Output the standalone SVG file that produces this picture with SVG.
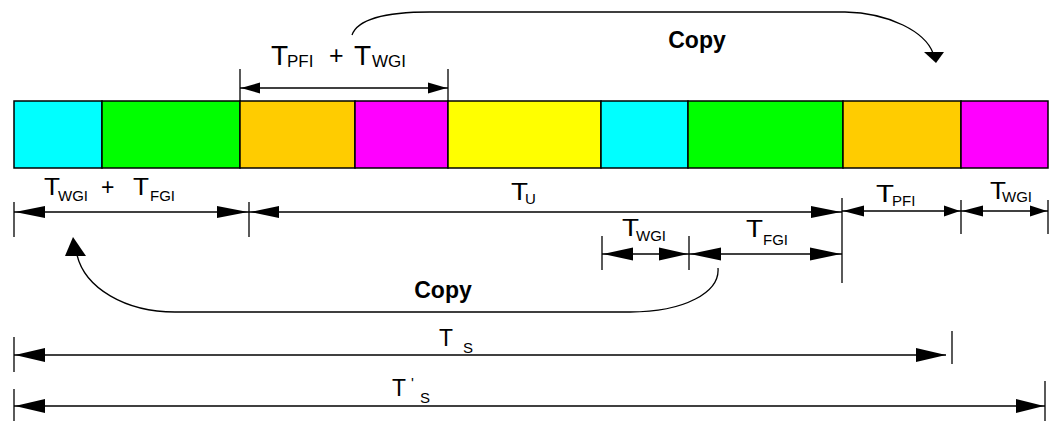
<svg xmlns="http://www.w3.org/2000/svg" width="1050" height="421" viewBox="0 0 1050 421">
<style>
  .blk{stroke:#000;stroke-width:1.5}
  .ln{stroke:#000;stroke-width:1.3;fill:none}
  .tk{stroke:#000;stroke-width:1.3}
  .ah{fill:#000;stroke:none}
  text{font-family:"Liberation Sans",Arial,sans-serif;fill:#000}
  .t{font-size:23px}
  .s{font-size:15px}
  .tt{font-size:28px}
  .ts{font-size:17px}
  .cp{font-size:23px;font-weight:bold}
</style>
<rect width="1050" height="421" fill="#fff"/>
<g id="block-wgi1"><rect class="blk" x="14" y="101" width="88" height="67" fill="#00FFFF"/></g>
<g id="block-fgi1"><rect class="blk" x="102" y="101" width="138" height="67" fill="#00FF00"/></g>
<g id="block-pfi1"><rect class="blk" x="240" y="101" width="115" height="67" fill="#FFCC00"/></g>
<g id="block-wgi2"><rect class="blk" x="355" y="101" width="93" height="67" fill="#FF00FF"/></g>
<g id="block-u"><rect class="blk" x="448" y="101" width="153" height="67" fill="#FFFF00"/></g>
<g id="block-wgi3"><rect class="blk" x="601" y="101" width="87" height="67" fill="#00FFFF"/></g>
<g id="block-fgi2"><rect class="blk" x="688" y="101" width="155" height="67" fill="#00FF00"/></g>
<g id="block-pfi2"><rect class="blk" x="843" y="101" width="118" height="67" fill="#FFCC00"/></g>
<g id="block-wgi4"><rect class="blk" x="961" y="101" width="87" height="67" fill="#FF00FF"/></g>

<g id="connectors">
  <!-- top dimension T_PFI + T_WGI -->
  <line class="tk" x1="240" y1="69" x2="240" y2="101"/>
  <line class="tk" x1="448" y1="69" x2="448" y2="101"/>
  <line class="ln" x1="240" y1="88" x2="448" y2="88"/>
  <polygon class="ah" points="241,88 260,82.5 260,93.5"/>
  <polygon class="ah" points="447,88 428,82.5 428,93.5"/>

  <!-- row 1 -->
  <line class="tk" x1="14" y1="202" x2="14" y2="237"/>
  <line class="tk" x1="249" y1="202" x2="249" y2="237"/>
  <line class="tk" x1="842" y1="198" x2="842" y2="283"/>
  <line class="tk" x1="961" y1="200" x2="961" y2="234"/>
  <line class="tk" x1="1048" y1="200" x2="1048" y2="234"/>
  <line class="ln" x1="14" y1="212" x2="842" y2="212"/>
  <polygon class="ah" points="15,212 45,206 45,218"/>
  <polygon class="ah" points="248,212 217,206 217,218"/>
  <polygon class="ah" points="250,212 279,206 279,218"/>
  <polygon class="ah" points="841,212 811,206 811,218"/>
  <line class="ln" x1="842" y1="211" x2="1048" y2="211"/>
  <polygon class="ah" points="843,211 864,205.5 864,216.5"/>
  <polygon class="ah" points="960,211 944,205.5 944,216.5"/>
  <polygon class="ah" points="962,211 983,205.5 983,216.5"/>
  <polygon class="ah" points="1047,211 1030,205.5 1030,216.5"/>

  <!-- row 2 -->
  <line class="tk" x1="602" y1="236" x2="602" y2="270"/>
  <line class="tk" x1="689" y1="236" x2="689" y2="270"/>
  <line class="ln" x1="602" y1="254" x2="842" y2="254"/>
  <polygon class="ah" points="603,254 633,247.5 633,260.5"/>
  <polygon class="ah" points="688,254 659,247.5 659,260.5"/>
  <polygon class="ah" points="690,254 721,247.5 721,260.5"/>
  <polygon class="ah" points="841,254 810,247.5 810,260.5"/>

  <!-- T_S -->
  <line class="tk" x1="14" y1="337" x2="14" y2="372"/>
  <line class="tk" x1="952" y1="331" x2="952" y2="364"/>
  <line class="ln" x1="14" y1="355" x2="946" y2="355"/>
  <polygon class="ah" points="15,355 45,348 45,362"/>
  <polygon class="ah" points="946,355 916,348 916,362"/>

  <!-- T'_S -->
  <line class="tk" x1="14" y1="389" x2="14" y2="421"/>
  <line class="tk" x1="1045" y1="381" x2="1045" y2="421"/>
  <line class="ln" x1="14" y1="406" x2="1045" y2="406"/>
  <polygon class="ah" points="15,406 45,399 45,413"/>
  <polygon class="ah" points="1044,406 1016,399 1016,413"/>

  <!-- copy arrows -->
  <path class="ln" d="M352,35 C358,18 390,12 430,12 L845,12 C890,13 925,32 933,53"/>
  <polygon class="ah" points="924,52 944,52 936,63"/>
  <path class="ln" d="M718,268 C720,292 685,312 630,312 L175,312 C125,312 85,288 77,255"/>
  <polygon class="ah" points="73,237 65,256 86,256"/>
</g>

<g id="labels">
  <text class="tt" x="271" y="65">T</text><text class="ts" x="287" y="67">PFI</text>
  <text class="tt" x="329" y="64" style="font-size:25px">+</text>
  <text class="tt" x="354" y="65">T</text><text class="ts" x="372" y="67">WGI</text>

  <text class="t" x="44" y="195" textLength="16" lengthAdjust="spacingAndGlyphs">T</text><text class="s" x="58" y="201">WGI</text>
  <text class="t" x="101" y="195">+</text>
  <text class="t" x="133" y="195" textLength="16" lengthAdjust="spacingAndGlyphs">T</text><text class="s" x="150" y="201">FGI</text>

  <text class="t" x="511" y="200" textLength="17" lengthAdjust="spacingAndGlyphs">T</text><text class="s" x="525" y="204">U</text>

  <text class="t" x="876" y="202" textLength="18" lengthAdjust="spacingAndGlyphs">T</text><text class="s" x="892" y="206">PFI</text>
  <text class="t" x="990" y="199" textLength="16" lengthAdjust="spacingAndGlyphs">T</text><text class="s" x="1002" y="202">WGI</text>

  <text class="t" x="622" y="236" textLength="17" lengthAdjust="spacingAndGlyphs">T</text><text class="s" x="636" y="241">WGI</text>
  <text class="t" x="746" y="237" textLength="17" lengthAdjust="spacingAndGlyphs">T</text><text class="s" x="763" y="245">FGI</text>

  <text class="t" x="439" y="346" textLength="14" lengthAdjust="spacingAndGlyphs">T</text><text class="s" x="463" y="353">S</text>
  <text class="t" x="392" y="396" textLength="14" lengthAdjust="spacingAndGlyphs">T</text><text class="s" x="411" y="388">'</text><text class="s" x="420" y="403">S</text>

  <text class="cp" x="697" y="48" text-anchor="middle">Copy</text>
  <text class="cp" x="443" y="298" text-anchor="middle">Copy</text>
</g>
</svg>
